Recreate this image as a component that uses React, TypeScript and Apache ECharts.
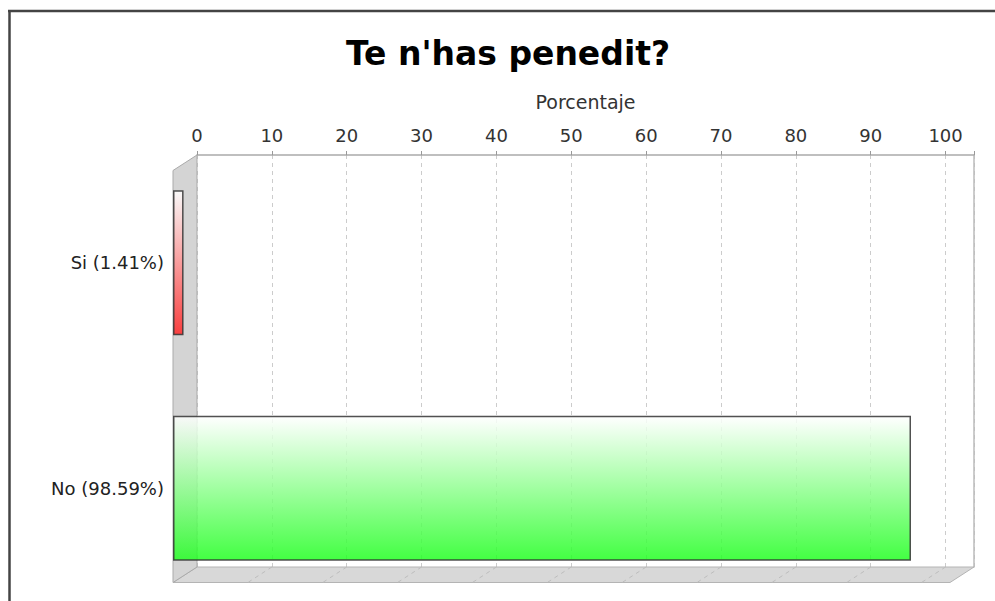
import React, { useEffect, useRef } from "react";
import * as echarts from "echarts";

const categories = ["Si (1.41%)", "No (98.59%)"];
const values = [1.41, 98.59];
const barColors = ["#ff2626", "#22ff22"];
const tickValues = [0, 10, 20, 30, 40, 50, 60, 70, 80, 90, 100];
const axisMax = 103.8;
const titleText = "Te n'has penedit?";
const axisName = "Porcentaje";

// layout (not data)
const BACK = { left: 197, top: 155, right: 974, bottom: 567 };
const DX = 24;
const DY = 15.5;
const W = 995;
const H = 601;

export default function App() {
  const ref = useRef<HTMLDivElement>(null);
  useEffect(() => {
    if (!ref.current) return;
    const chart = echarts.init(ref.current, null, { renderer: "svg" });
    const FRONT = {
      left: BACK.left - DX,
      top: BACK.top + DY,
      right: BACK.right - DX,
      bottom: BACK.bottom + DY,
    };
    const option: any = {
      animation: false,
      backgroundColor: "#ffffff",
      title: {
        text: titleText,
        left: 508,
        top: 37,
        textAlign: "center",
        padding: 0,
        textStyle: {
          fontFamily: "DejaVu Sans",
          fontWeight: "bold",
          fontSize: 33,
          color: "#000",
        },
      },
      grid: [
        {
          left: FRONT.left,
          right: W - FRONT.right,
          top: 150,
          bottom: -2,
          containLabel: false,
        },
        {
          left: BACK.left,
          right: W - BACK.right,
          top: BACK.top,
          bottom: H - BACK.bottom,
          containLabel: false,
        },
      ],
      xAxis: [
        {
          type: "value",
          gridIndex: 0,
          min: 0,
          max: axisMax,
          interval: 10,
          show: false,
        },
        {
          type: "value",
          gridIndex: 1,
          position: "top",
          min: 0,
          max: axisMax,
          interval: 10,
          name: axisName,
          nameLocation: "middle",
          nameGap: 44,
          nameTextStyle: {
            fontFamily: "DejaVu Sans",
            fontSize: 19,
            color: "#333",
          },
          axisLine: { show: true, lineStyle: { color: "#aaaaaa", width: 1.5 } },
          axisTick: { show: true, length: 4, lineStyle: { color: "#999" } },
          axisLabel: {
            fontFamily: "DejaVu Sans",
            fontSize: 18,
            color: "#333",
            margin: 11,
            formatter: (v: number) => (Math.abs(v % 10) < 1e-6 ? String(v) : ""),
          },
          splitLine: {
            show: true,
            lineStyle: { color: "#cccccc", type: [4, 4], width: 1 },
          },
        },
      ],
      yAxis: [
        {
          type: "category",
          gridIndex: 0,
          data: categories,
          inverse: true,
          axisLine: { show: false },
          axisTick: { show: false },
          axisLabel: {
            fontFamily: "DejaVu Sans",
            fontSize: 18,
            color: "#222",
            margin: 9,
          },
        },
        {
          type: "category",
          gridIndex: 1,
          data: categories,
          inverse: true,
          position: "right",
          axisLine: {
            show: true,
            onZero: false,
            lineStyle: { color: "#bbbbbb", width: 1.5 },
          },
          axisTick: { show: false },
          axisLabel: { show: false },
          splitLine: { show: false },
        },
      ],
      series: [
        {
          type: "bar",
          xAxisIndex: 0,
          yAxisIndex: 0,
          barWidth: 145,
          z: 5,
          data: values.map((v, i) => ({
            value: v,
            itemStyle: {
              color: {
                type: "linear",
                x: 0,
                y: 0,
                x2: 0,
                y2: 1,
                colorStops: [
                  { offset: 0, color: "#ffffff" },
                  { offset: 1, color: barColors[i] },
                ],
              },
              borderColor: "#333333",
              borderWidth: 1.5,
              opacity: 0.85,
            },
          })),
        },
      ],
    };
    chart.setOption(option);

    const graphics: any[] = [];
    // frame lines
    graphics.push({
      type: "line",
      shape: { x1: 8, y1: 11, x2: W, y2: 11 },
      style: { stroke: "#444", lineWidth: 2.5 },
      z: 10,
    });
    graphics.push({
      type: "line",
      shape: { x1: 9.5, y1: 10, x2: 9.5, y2: H },
      style: { stroke: "#444", lineWidth: 2.5 },
      z: 10,
    });
    // floor
    graphics.push({
      type: "polygon",
      shape: {
        points: [
          [BACK.left, BACK.bottom],
          [BACK.right, BACK.bottom],
          [FRONT.right, FRONT.bottom],
          [FRONT.left, FRONT.bottom],
        ],
      },
      style: { fill: "#d8d8d8", stroke: "#b4b4b4", lineWidth: 1 },
      z: 1,
    });
    // floor gridline continuations
    tickValues.forEach((t) => {
      const x = chart.convertToPixel({ xAxisIndex: 1 }, t) as number;
      if (t === 0) return;
      graphics.push({
        type: "line",
        shape: { x1: x, y1: BACK.bottom, x2: x - DX, y2: FRONT.bottom },
        style: { stroke: "#bdbdbd", lineWidth: 1, lineDash: [4, 4] },
        z: 2,
      });
    });
    // left wall
    graphics.push({
      type: "polygon",
      shape: {
        points: [
          [FRONT.left, FRONT.top],
          [BACK.left, BACK.top],
          [BACK.left, BACK.bottom],
          [FRONT.left, FRONT.bottom],
        ],
      },
      style: { fill: "#d4d4d4", stroke: "#aaaaaa", lineWidth: 1 },
      z: 2,
    });
    chart.setOption({ graphic: { elements: graphics } });

    return () => chart.dispose();
  }, []);
  return (
    <div
      ref={ref}
      style={{ position: "fixed", left: 0, top: 0, width: W, height: H }}
    />
  );
}
